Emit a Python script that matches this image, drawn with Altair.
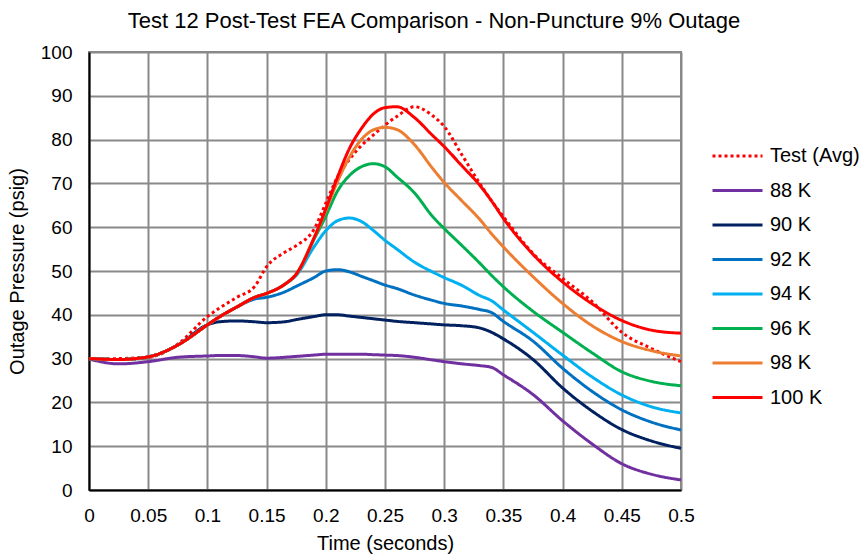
import altair as alt
import pandas as pd

time_s = [0, 0.025, 0.05, 0.075, 0.1, 0.11, 0.125, 0.14, 0.15, 0.165, 0.175, 0.19,
          0.2, 0.21, 0.22, 0.23, 0.24, 0.25, 0.26, 0.275, 0.29, 0.3, 0.315, 0.33,
          0.34, 0.35, 0.375, 0.4, 0.425, 0.45, 0.475, 0.5]

test_avg = [29.8, 30.0, 30.3, 33.3, 39.6, 41.5, 44.0, 46.5, 51.0, 54.2, 55.8, 59.5,
            65.5, 71.5, 75.5, 78.6, 81.0, 83.3, 85.3, 87.5, 85.5, 83.0, 76.5, 70.0,
            66.0, 62.4, 54.0, 48.3, 43.0, 36.0, 32.3, 29.3]
k88 = [29.9, 28.8, 29.3, 30.3, 30.6, 30.7, 30.7, 30.4, 30.1, 30.3, 30.5, 30.8,
       31.0, 31.0, 31.0, 31.0, 30.9, 30.8, 30.7, 30.3, 29.7, 29.3, 28.8, 28.4,
       28.0, 26.3, 21.8, 15.8, 10.5, 6.0, 3.6, 2.3]
k90 = [30.0, 29.8, 30.4, 33.1, 37.7, 38.4, 38.6, 38.4, 38.2, 38.4, 38.9, 39.6,
       40.0, 40.0, 39.7, 39.4, 39.1, 38.8, 38.5, 38.2, 37.9, 37.7, 37.5, 37.0,
       36.0, 34.5, 29.8, 23.3, 18.0, 13.8, 11.2, 9.5]
k92 = [30.0, 29.8, 30.4, 33.1, 37.7, 39.5, 41.8, 43.6, 44.0, 45.2, 46.5, 48.5,
       50.0, 50.3, 49.8, 48.8, 47.8, 46.8, 46.0, 44.5, 43.3, 42.6, 42.0, 41.2,
       40.5, 38.5, 34.0, 27.8, 22.5, 18.3, 15.5, 13.7]
k94 = [30.0, 29.8, 30.4, 33.1, 37.7, 39.5, 41.8, 44.0, 44.9, 46.9, 49.0, 55.5,
       59.2, 61.5, 62.1, 61.3, 59.3, 57.0, 55.0, 52.0, 49.8, 48.5, 46.7, 44.4,
       43.2, 41.1, 36.0, 30.8, 25.8, 21.7, 19.0, 17.6]
k96 = [30.0, 29.8, 30.4, 33.1, 37.7, 39.5, 41.8, 44.0, 44.9, 46.9, 49.3, 57.2,
       62.5, 68.3, 71.8, 73.8, 74.5, 73.8, 71.5, 67.8, 62.5, 59.7, 55.8, 51.8,
       49.0, 46.4, 40.8, 36.0, 31.3, 27.0, 24.8, 23.8]
k98 = [30.0, 29.8, 30.4, 33.1, 37.7, 39.5, 41.8, 44.0, 44.9, 46.9, 49.3, 57.5,
       63.8, 70.5, 76.0, 80.0, 82.2, 82.8, 82.3, 78.8, 73.5, 70.2, 66.0, 61.8,
       58.5, 55.5, 48.7, 42.6, 37.5, 33.9, 31.8, 30.6]
k100 = [30.0, 29.8, 30.4, 33.1, 37.7, 39.5, 41.8, 44.0, 44.9, 46.9, 49.3, 57.5,
        64.2, 71.5, 78.0, 82.5, 85.8, 87.3, 87.5, 85.0, 81.0, 78.4, 74.0, 69.6,
        66.0, 62.0, 53.8, 47.5, 42.5, 38.7, 36.5, 35.8]

series_names = ["Test (Avg)", "88 K", "90 K", "92 K", "94 K", "96 K", "98 K", "100 K"]
series_values = [test_avg, k88, k90, k92, k94, k96, k98, k100]
series_colors = ["#FF0000", "#7030A0", "#002060", "#0070C0", "#00B0F0", "#00B050", "#ED7D31", "#FF0000"]
series_dashes = [[3, 3], [1, 0], [1, 0], [1, 0], [1, 0], [1, 0], [1, 0], [1, 0]]

x_ticks = [0, 0.05, 0.1, 0.15, 0.2, 0.25, 0.3, 0.35, 0.4, 0.45, 0.5]
y_ticks = [0, 10, 20, 30, 40, 50, 60, 70, 80, 90, 100]

rows = []
for order, (name, vals) in enumerate(zip(series_names, series_values)):
    for t, v in zip(time_s, vals):
        rows.append({"Time": t, "Pressure": v, "Series": name, "order": order})
df = pd.DataFrame(rows)

FONT = "Liberation Sans"

legend_cfg = dict(title=None, orient="none", legendX=622, legendY=94,
                  symbolType="stroke", symbolSize=2500,
                  symbolStrokeWidth=3, labelFontSize=20,
                  labelFont=FONT, labelColor="#000000",
                  labelOffset=6, rowPadding=14.5, clipHeight=20)

chart = alt.Chart(df).mark_line(strokeWidth=3, interpolate="monotone").encode(
    x=alt.X("Time:Q", scale=alt.Scale(domain=[0, 0.5], nice=False),
            axis=alt.Axis(values=x_ticks, format="~g", title="Time (seconds)",
                          grid=True, ticks=False, tickSize=0, labelPadding=16,
                          labelFlush=False, titlePadding=8)),
    y=alt.Y("Pressure:Q", scale=alt.Scale(domain=[0, 100], nice=False),
            axis=alt.Axis(values=y_ticks, title="Outage Pressure (psig)",
                          grid=True, ticks=False, tickSize=0, labelPadding=17,
                          titlePadding=13)),
    color=alt.Color("Series:N", scale=alt.Scale(domain=series_names, range=series_colors),
                    legend=alt.Legend(**legend_cfg)),
    strokeDash=alt.StrokeDash("Series:N", scale=alt.Scale(domain=series_names, range=series_dashes),
                              legend=alt.Legend(**legend_cfg)),
    order=alt.Order("order:Q"),
).properties(
    width=592,
    height=438,
    title=alt.TitleParams("Test 12 Post-Test FEA Comparison - Non-Puncture 9% Outage",
                          font=FONT, fontSize=22, fontWeight="normal", color="#000000",
                          anchor="middle", dx=49, offset=10),
    autosize=alt.AutoSizeParams(type="none"),
    padding={"left": 89, "top": 52, "right": 183, "bottom": 65},
).configure_view(
    stroke="#898989", strokeWidth=2
).configure_axis(
    labelFont=FONT, titleFont=FONT, labelFontSize=19, titleFontSize=20,
    labelColor="#000000", titleColor="#000000", titleFontWeight="normal",
    gridColor="#898989", gridWidth=2, gridOpacity=1,
    domainColor="#000000", domainWidth=2,
)

chart.save("out.html", embed_options={"renderer": "svg", "actions": False})
